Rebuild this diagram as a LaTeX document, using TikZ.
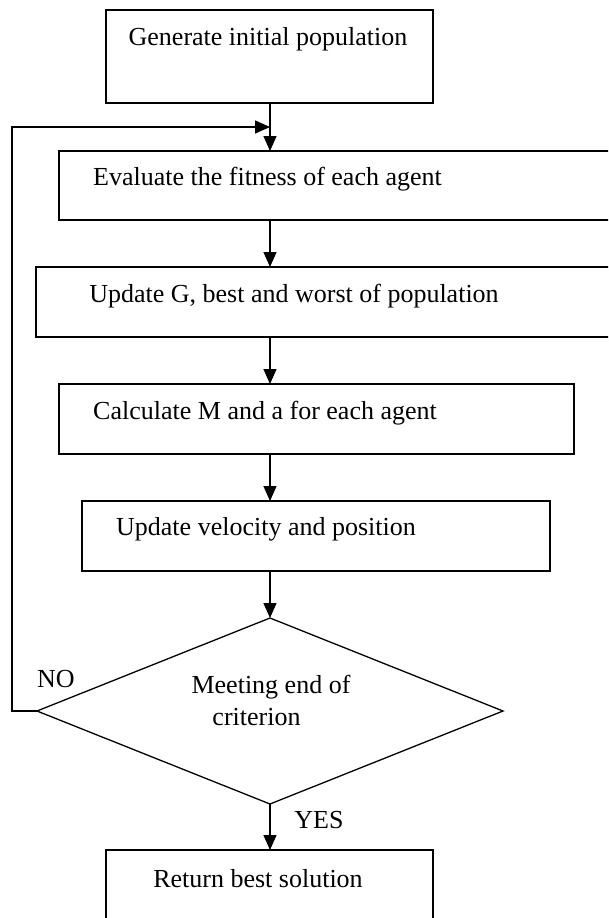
\documentclass[tikz,border=0pt]{standalone}
\usepackage{fontspec}
\setmainfont{Liberation Serif}
\usetikzlibrary{shapes.geometric,arrows.meta}
\tikzset{
  box/.style={draw, rectangle, line width=1.3pt, inner sep=0pt, outer sep=0pt},
  dia/.style={draw, diamond, line width=1.3pt, inner sep=0pt, outer sep=0pt},
  txt/.style={inner sep=0pt, outer sep=0pt, anchor=base, font=\fontsize{26}{32}\selectfont},
  arr/.style={line width=1.3pt, -{Triangle[length=15pt,width=13pt]}},
  ln/.style={line width=1.3pt}
}
\begin{document}
\begin{tikzpicture}[x=1pt,y=-1pt]
\useasboundingbox (0,0) rectangle (608,918);
\clip (0,0) rectangle (608,918);
\coordinate (c) at (270,0);
\coordinate (lp) at (12,127);
% boxes
\node[box, minimum width=327pt, minimum height=93pt] (b1) at (269.5,56.5) {};
\node[box, minimum width=581pt, minimum height=69pt] (b2) at (349.5,185.5) {};
\node[box, minimum width=604pt, minimum height=70pt] (b3) at (338,302) {};
\node[box, minimum width=515pt, minimum height=70pt] (b4) at (316.5,419) {};
\node[box, minimum width=468pt, minimum height=70pt] (b5) at (316,536) {};
\node[dia, minimum width=466pt, minimum height=186pt] (d) at (270,711) {};
\node[box, minimum width=327pt, minimum height=110pt] (b6) at (269.5,905) {};
% texts
\node[txt] (t1) at (268,45) {Generate initial population};
\node[txt] (t2) at (267.5,185) {Evaluate the fitness of each agent};
\node[txt] (t3) at (294,302) {Update G, best and worst of population};
\node[txt] (t4) at (265,419) {Calculate M and a for each agent};
\node[txt] (t5) at (266,535) {Update velocity and position};
\node[txt] (t6a) at (271,693) {Meeting end of};
\node[txt] (t6b) at (256.5,725) {criterion};
\node[txt] (no) at (56,687) {NO};
\node[txt] (yes) at (319,828) {YES};
\node[txt] (t7) at (258,887) {Return best solution};
% connectors
\draw[arr] (c |- b1.south) -- (c |- b2.north);
\draw[arr] (c |- b2.south) -- (c |- b3.north);
\draw[arr] (c |- b3.south) -- (c |- b4.north);
\draw[arr] (c |- b4.south) -- (c |- b5.north);
\draw[arr] (c |- b5.south) -- (d.north);
\draw[arr] (d.south) -- (c |- b6.north);
\draw[arr] (d.west) -| (lp) -- (c |- lp);
\end{tikzpicture}
\end{document}
